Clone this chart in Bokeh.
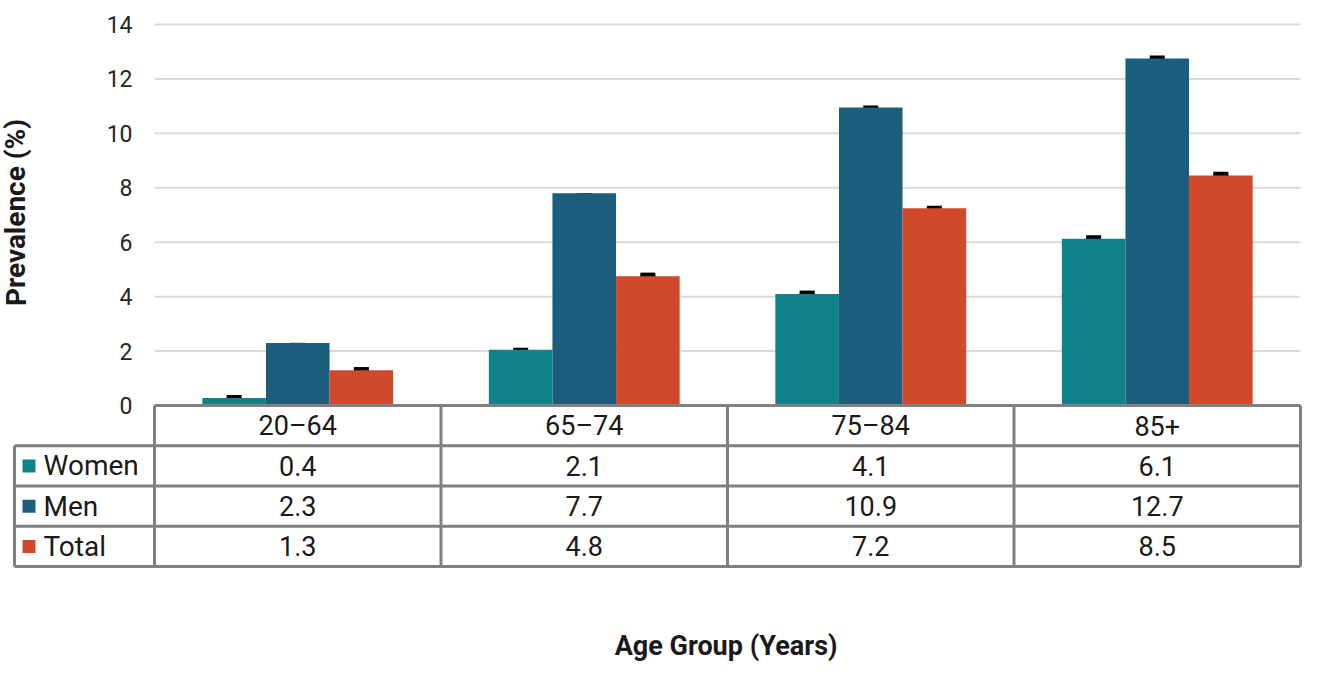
from bokeh.plotting import figure
from bokeh.models import ColumnDataSource, Range1d, Whisker, TeeHead
from bokeh.core.properties import value
from bokeh.embed import file_html
from bokeh.resources import INLINE

# ---- data ----
groups = ["20–64", "65–74", "75–84", "85+"]
series = ["Women", "Men", "Total"]
colors = ["#10838A", "#1B5E7D", "#D2482B"]
# table values
women = [0.4, 2.1, 4.1, 6.1]
men = [2.3, 7.7, 10.9, 12.7]
total = [1.3, 4.8, 7.2, 8.5]
# bar heights as drawn
women_bar = [0.28, 2.05, 4.1, 6.13]
men_bar = [2.3, 7.8, 10.95, 12.75]
total_bar = [1.3, 4.75, 7.25, 8.45]
# error bar centres and half widths
women_err_c = [0.26, 2.0, 4.1, 6.13]
men_err_c = [2.18, 7.68, 10.9, 12.67]
total_err_c = [1.29, 4.76, 7.22, 8.47]
women_err = [0.05, 0.05, 0.05, 0.05]
men_err = [0.05, 0.05, 0.05, 0.12]
total_err = [0.05, 0.05, 0.05, 0.05]
y_ticks = [0, 2, 4, 6, 8, 10, 12, 14]

FONT = "Roboto"
TXT = "#1a1a1a"
GRID = "#D9D9D9"
BORDER = "#808080"

p = figure(width=1302, height=667, output_backend="svg", toolbar_location=None,
           x_range=Range1d(-0.5375, 4.007), y_range=Range1d(-9.627, 14.882),
           min_border=0)
p.axis.visible = False
p.grid.visible = False
p.outline_line_color = None
p.background_fill_color = "white"

n = len(groups)
bw = 0.222
offsets = [-bw, 0.0, bw]
bars = [women_bar, men_bar, total_bar]
errc = [women_err_c, men_err_c, total_err_c]
errs = [women_err, men_err, total_err]
tables = [women, men, total]

# gridlines
p.segment(x0=[0] * len(y_ticks), x1=[n] * len(y_ticks), y0=y_ticks, y1=y_ticks,
          line_color=GRID, line_width=2)
# y tick labels
p.text(x=[-0.0768] * len(y_ticks), y=y_ticks, text=[str(t) for t in y_ticks],
       text_align="right", text_baseline="middle", text_font=value(FONT),
       text_font_size="23px", text_color="#262626")
# y title
p.text(x=[-0.4834], y=[7.092], text=["Prevalence (%)"], angle=1.5708,
       text_align="center", text_baseline="middle", text_font=value(FONT),
       text_font_size="28px", text_font_style="bold", text_color=TXT)

# bars + errors
for k in range(3):
    xs = [i + 0.5 + offsets[k] for i in range(n)]
    src = ColumnDataSource(dict(x=xs, top=bars[k]))
    p.vbar(x="x", top="top", bottom=0, width=bw, source=src,
           fill_color=colors[k], line_color=None)
    esrc = ColumnDataSource(dict(x=xs,
                                 lower=[c - e for c, e in zip(errc[k], errs[k])],
                                 upper=[c + e for c, e in zip(errc[k], errs[k])]))
    w = Whisker(source=esrc, base="x", lower="lower", upper="upper", dimension="height",
                line_color="black", line_width=4,
                upper_head=TeeHead(size=15, line_width=4, line_color="black"),
                lower_head=TeeHead(size=15, line_width=4, line_color="black"))
    p.add_layout(w)

# table
row_h = 1.479
rows = len(series) + 1
left_x = -0.4887
# horizontal lines
hy = [-row_h * r for r in range(rows + 1)]
hx0 = [0.0] + [left_x] * rows
p.segment(x0=hx0, x1=[n] * (rows + 1), y0=hy, y1=hy, line_color=BORDER, line_width=3)
# vertical lines
vx = [float(i) for i in range(n + 1)] + [left_x]
vy0 = [0.0] * (n + 1) + [-row_h]
p.segment(x0=vx, x1=vx, y0=vy0, y1=[-row_h * rows] * (n + 2), line_color=BORDER, line_width=3)

# header texts
p.text(x=[i + 0.5 for i in range(n)], y=[-row_h * 0.5] * n, text=groups,
       text_align="center", text_baseline="middle", text_font=value(FONT),
       text_font_size="27px", text_color=TXT)
# row values
for k in range(3):
    yc = -row_h * (k + 1.5)
    p.text(x=[i + 0.5 for i in range(n)], y=[yc] * n,
           text=["%.1f" % v for v in tables[k]],
           text_align="center", text_baseline="middle", text_font=value(FONT),
           text_font_size="27px", text_color=TXT)
    p.rect(x=[-0.438], y=[yc], width=13, height=13, width_units="screen",
           height_units="screen", fill_color=colors[k], line_color=None)
    p.text(x=[-0.3874], y=[yc], text=[series[k]], text_align="left",
           text_baseline="middle", text_font=value(FONT), text_font_size="28px",
           text_color=TXT)

# x title
p.text(x=[1.995], y=[-8.82], text=["Age Group (Years)"], text_align="center",
       text_baseline="middle", text_font=value(FONT), text_font_size="27px",
       text_font_style="bold", text_color=TXT)

open("out.html", "w").write(file_html(p, INLINE))
